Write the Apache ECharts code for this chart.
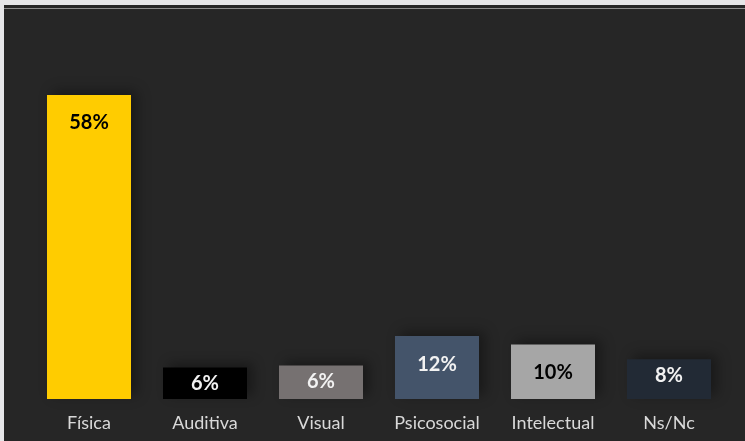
<!DOCTYPE html>
<html>
<head>
<meta charset="utf-8">
<script src="https://cdn.jsdelivr.net/npm/echarts@6/dist/echarts.min.js"></script>
<style>
  html, body { margin: 0; padding: 0; background: #e6e6e8; overflow: hidden; }
  #panel { position: absolute; left: 4px; top: 5px; width: 745px; height: 436px; background: #262626; }
  #rule { position: absolute; left: 4px; top: 8px; width: 745px; height: 1px; background: #8c8c8c; }
  #chart { position: absolute; left: 0; top: 0; width: 745px; height: 441px; }
</style>
</head>
<body>
<div id="panel"></div>
<div id="rule"></div>
<div id="chart"></div>
<script>
  // values (labels are shown rounded)
  var categories = ['Física', 'Auditiva', 'Visual', 'Psicosocial', 'Intelectual', 'Ns/Nc'];
  var percents = [58, 6, 6.4, 12, 10.4, 7.6];
  var barColors = ['#ffcc00', '#000000', '#767171', '#44546a', '#a6a6a6', '#222a35'];
  var labelColors = ['#000000', '#f2f2f2', '#f2f2f2', '#f2f2f2', '#000000', '#f2f2f2'];

  var myChart = echarts.init(document.getElementById('chart'));
  var seriesData = [];
  for (var i = 0; i < percents.length; i++) {
    seriesData.push({
      value: percents[i],
      itemStyle: { color: barColors[i] },
      label: { color: labelColors[i], distance: percents[i] >= 10 ? 18 : 6 }
    });
  }
  //short bars get their label pulled up close to the top edge

  var option = {
    backgroundColor: 'transparent',
    animation: false,
    grid: { left: 31, right: 18, top: 84.5, bottom: 42 },
    xAxis: {
      type: 'category',
      data: categories,
      axisLine: { show: false },
      axisTick: { show: false },
      axisLabel: { color: '#d9d9d9', fontSize: 18, fontFamily: 'Lato', margin: 15 }
    },
    yAxis: { type: 'value', min: 0, max: 60, show: false, splitLine: { show: false } },
    series: [{
      type: 'bar',
      barWidth: 84,
      data: seriesData,
      itemStyle: { shadowColor: 'rgba(0,0,0,0.35)', shadowBlur: 12, shadowOffsetX: 6, shadowOffsetY: -4 },
      label: {
        show: true,
        position: 'insideTop',
        fontSize: 20,
        fontWeight: 'bold',
        fontFamily: 'Lato',
        formatter: function (p) { return Math.round(p.value) + '%'; }
      }
    }]
  };
  myChart.setOption(option);
</script>
</body>
</html>
